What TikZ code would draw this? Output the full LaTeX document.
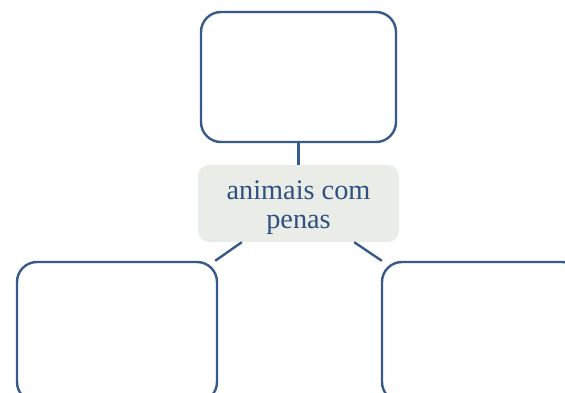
\documentclass[tikz,border=0pt]{standalone}
\usepackage{fontspec}
\setmainfont{Liberation Serif}
\usetikzlibrary{positioning}
\definecolor{boxblue}{RGB}{56,90,138}
\definecolor{textblue}{RGB}{47,80,128}
\definecolor{softgrey}{RGB}{234,237,231}
\newcommand{\labelsize}{\fontsize{28.3}{29}\selectfont}

\begin{document}
\begin{tikzpicture}[x=1pt, y=-1pt,
    emptybox/.style={draw=boxblue, line width=2.4pt, rounded corners=20pt,
      minimum width=#1, minimum height=130pt, inner sep=0pt},
    centrebox/.style={fill=softgrey, rounded corners=11pt,
      minimum width=201pt, minimum height=77pt, inner sep=0pt},
    centretext/.style={text=textblue, align=center, inner sep=0pt, font=\labelsize},
    link/.style={draw=boxblue, line width=2.4pt}]
  \useasboundingbox (0,0) rectangle (565,393);
  % boxes
  \node[emptybox=195pt] (top) at (298.5,77) {};
  \node[centrebox] (mid) at (298.5,203.5) {};
  \node[centretext, below=0pt of mid.center, anchor=center, yshift=-4pt] (midtext) {animais com\\penas};
  \node[emptybox=200pt, minimum height=140pt] (left) at (117,332) {};
  \node[emptybox=200pt, minimum height=140pt] (right) at (482,332) {};
  % links
  \draw[link] (top.south) -- (mid.north);
  \draw[link] ([xshift=44pt]mid.south west) -- ([xshift=-3pt]left.north east);
  \draw[link] ([xshift=-45pt]mid.south east) -- ([xshift=1pt]right.north west);
\end{tikzpicture}
\end{document}
